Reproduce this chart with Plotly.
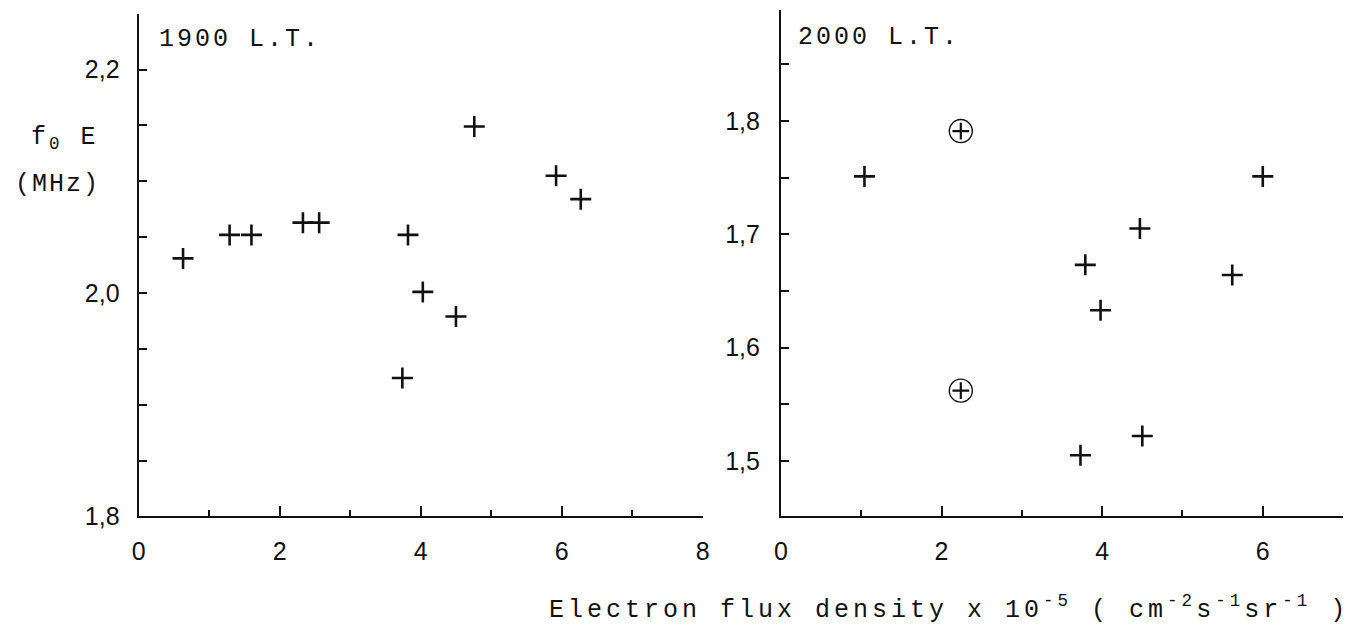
import plotly.graph_objects as go

# f0E versus electron flux, evening hours

# 1900 L.T.
flux_1900 = [0.63, 1.29, 1.60, 2.33, 2.56, 3.82, 4.76, 5.92, 6.27, 4.03, 4.50, 3.74]
foe_1900 = [2.031, 2.052, 2.052, 2.063, 2.063, 2.052, 2.149, 2.105, 2.084, 2.001, 1.979, 1.924]

# 2000 L.T.
flux_2000 = [1.04, 3.79, 3.98, 4.47, 5.62, 6.00, 3.73, 4.50]
foe_2000 = [1.751, 1.673, 1.633, 1.705, 1.664, 1.751, 1.505, 1.522]
# circled observations
flux_2000_circled = [2.24, 2.24]
foe_2000_circled = [1.791, 1.562]

x_ticks_1900 = [0, 2, 4, 6, 8]
x_ticks_2000 = [0, 2, 4, 6]
y_ticks_1900 = [1.8, 2.0, 2.2]
y_ticks_2000 = [1.5, 1.6, 1.7, 1.8]

W, H = 1357, 642
INK = "#111111"
TYPE_FONT = "Liberation Mono, Courier New, monospace"
NUM_FONT = "Liberation Sans Narrow, Liberation Sans, Arial, sans-serif"


def px(x):
    return x / W


def py(y):
    return (H - y) / H


def spaced(txt, sp=2):
    return f'<span style="letter-spacing:{sp}px">{txt}</span>'


cross = dict(symbol="cross-thin", size=15, color=INK, line=dict(color=INK, width=2.6))

fig = go.Figure()
fig.add_trace(go.Scatter(x=flux_1900, y=foe_1900, mode="markers", marker=cross,
                         xaxis="x", yaxis="y", showlegend=False))
fig.add_trace(go.Scatter(x=flux_2000, y=foe_2000, mode="markers", marker=cross,
                         xaxis="x2", yaxis="y2", showlegend=False))
fig.add_trace(go.Scatter(x=flux_2000_circled, y=foe_2000_circled, mode="markers",
                         marker=dict(symbol="cross-thin", size=12, color=INK,
                                     line=dict(color=INK, width=2.2)),
                         xaxis="x2", yaxis="y2", showlegend=False))
fig.add_trace(go.Scatter(x=flux_2000_circled, y=foe_2000_circled, mode="markers",
                         marker=dict(symbol="circle-open", size=23, color=INK,
                                     line=dict(color=INK, width=1.4)),
                         xaxis="x2", yaxis="y2", showlegend=False))

axis_common = dict(
    showline=True, linecolor=INK, linewidth=2,
    ticks="inside", tickcolor=INK, tickwidth=2,
    showgrid=False, zeroline=False,
    tickfont=dict(family=NUM_FONT, size=25, color=INK),
)

fig.update_layout(
    width=W, height=H,
    margin=dict(l=0, r=0, t=0, b=0),
    paper_bgcolor="white", plot_bgcolor="white",
    separators=", ",
    xaxis=dict(axis_common, domain=[px(133), px(703)], range=[0, 8],
               tickvals=x_ticks_1900, ticklen=10, anchor="y",
               ticklabelstandoff=12,
               minor=dict(tickmode="linear", tick0=0, dtick=1, ticks="inside",
                          ticklen=6, tickwidth=2, tickcolor=INK, showgrid=False)),
    yaxis=dict(axis_common, domain=[py(528), py(14)], range=[1.8, 2.25],
               tickvals=y_ticks_1900, tickformat=".1f", ticklen=8, anchor="x",
               ticklabelstandoff=12,
               minor=dict(tickmode="linear", tick0=1.8, dtick=0.05, ticks="inside",
                          ticklen=8, tickwidth=2, tickcolor=INK, showgrid=False)),
    xaxis2=dict(axis_common, domain=[px(782), px(1350)], range=[0, 7],
                tickvals=x_ticks_2000, ticklen=10, anchor="y2",
                ticklabelstandoff=12,
                minor=dict(tickmode="linear", tick0=0, dtick=1, ticks="inside",
                           ticklen=6, tickwidth=2, tickcolor=INK, showgrid=False)),
    yaxis2=dict(axis_common, domain=[py(528), py(10)], range=[1.451, 1.898],
                tickvals=y_ticks_2000, tickformat=".1f", ticklen=8, anchor="x2",
                ticklabelstandoff=14,
                minor=dict(tickmode="linear", tick0=1.5, dtick=0.05, ticks="inside",
                           ticklen=8, tickwidth=2, tickcolor=INK, showgrid=False)),
)

type_font = dict(family=TYPE_FONT, size=25, color=INK)

fig.add_annotation(text=spaced("1900 L.T.", 3), x=px(152), y=py(40),
                   xref="paper", yref="paper", xanchor="left", yanchor="middle",
                   showarrow=False, font=type_font)
fig.add_annotation(text=spaced("2000 L.T.", 3), x=px(797), y=py(38),
                   xref="paper", yref="paper", xanchor="left", yanchor="middle",
                   showarrow=False, font=type_font)
fig.add_annotation(text=spaced("f<sub>0</sub> E", 3), x=px(22), y=py(142),
                   xref="paper", yref="paper", xanchor="left", yanchor="middle",
                   showarrow=False, font=type_font)
fig.add_annotation(text=spaced("(MHz)", 2), x=px(6), y=py(189),
                   xref="paper", yref="paper", xanchor="left", yanchor="middle",
                   showarrow=False, font=type_font)
fig.add_annotation(
    text=spaced("Electron flux density x 10<sup>-5</sup> ( cm<sup>-2</sup>s<sup>-1</sup>sr<sup>-1</sup> )", 4),
    x=px(546), y=py(641), xref="paper", yref="paper",
    xanchor="left", yanchor="bottom", showarrow=False, font=type_font)

fig.write_html("out.html")
